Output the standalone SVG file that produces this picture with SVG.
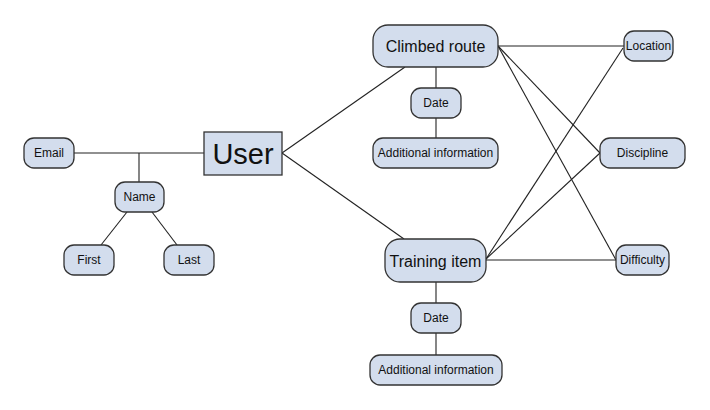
<svg xmlns="http://www.w3.org/2000/svg" width="710" height="410" viewBox="0 0 710 410">
<style>
.n{fill:#d3dded;stroke:#333;stroke-width:1.3}
.t{font-family:"Liberation Sans",Arial,sans-serif;fill:#111;text-anchor:middle;dominant-baseline:central}
.s{font-size:12px}
.m{font-size:16px}
.l{font-size:29px}
.c{stroke:#222;stroke-width:1.1;fill:none}
</style>
<rect width="710" height="410" fill="#fff"/>
<g id="connectors">
<line class="c" x1="74" y1="153" x2="204" y2="153"/>
<line class="c" x1="139" y1="153" x2="139" y2="182"/>
<line class="c" x1="127" y1="212" x2="101" y2="245"/>
<line class="c" x1="152" y1="212" x2="177" y2="245"/>
<line class="c" x1="282" y1="153" x2="405" y2="67"/>
<line class="c" x1="282" y1="153" x2="404" y2="239"/>
<line class="c" x1="436" y1="67" x2="436" y2="88"/>
<line class="c" x1="436" y1="118" x2="436" y2="138"/>
<line class="c" x1="436" y1="282" x2="436" y2="303"/>
<line class="c" x1="436" y1="333" x2="436" y2="355"/>
<line class="c" x1="498" y1="46" x2="624" y2="46"/>
<line class="c" x1="498" y1="46" x2="600" y2="153"/>
<line class="c" x1="498" y1="46" x2="616" y2="260"/>
<line class="c" x1="486" y1="259" x2="623" y2="48"/>
<line class="c" x1="486" y1="259" x2="600" y2="153"/>
<line class="c" x1="486" y1="260" x2="616" y2="260"/>
</g>
<g id="user"><rect class="n" x="204" y="132" width="78" height="43"/><text class="t l" x="243" y="154">User</text></g>
<g id="email"><rect class="n" x="24" y="138" width="50" height="30" rx="10"/><text class="t s" x="49" y="153">Email</text></g>
<g id="name"><rect class="n" x="115" y="182" width="49" height="30" rx="10"/><text class="t s" x="139.5" y="197">Name</text></g>
<g id="first"><rect class="n" x="64" y="245" width="50" height="30" rx="10"/><text class="t s" x="89" y="260">First</text></g>
<g id="last"><rect class="n" x="164" y="245" width="50" height="30" rx="10"/><text class="t s" x="189" y="260">Last</text></g>
<g id="climbed-route"><rect class="n" x="373" y="25" width="125" height="42" rx="15"/><text class="t m" x="435.5" y="46">Climbed route</text></g>
<g id="date1"><rect class="n" x="411" y="88" width="50" height="30" rx="10"/><text class="t s" x="436" y="103">Date</text></g>
<g id="addinfo1"><rect class="n" x="373" y="138" width="125" height="30" rx="10"/><text class="t s" x="435.5" y="153">Additional information</text></g>
<g id="location"><rect class="n" x="624" y="31" width="49" height="30" rx="10"/><text class="t s" x="648.5" y="46">Location</text></g>
<g id="discipline"><rect class="n" x="600" y="138" width="85" height="30" rx="10"/><text class="t s" x="642.5" y="153">Discipline</text></g>
<g id="difficulty"><rect class="n" x="616" y="245" width="53" height="30" rx="10"/><text class="t s" x="642.5" y="260">Difficulty</text></g>
<g id="training-item"><rect class="n" x="385" y="239" width="101" height="43" rx="15"/><text class="t m" x="435.5" y="261">Training item</text></g>
<g id="date2"><rect class="n" x="411" y="303" width="50" height="30" rx="10"/><text class="t s" x="436" y="318">Date</text></g>
<g id="addinfo2"><rect class="n" x="370" y="355" width="132" height="30" rx="10"/><text class="t s" x="436" y="370">Additional information</text></g>
</svg>
